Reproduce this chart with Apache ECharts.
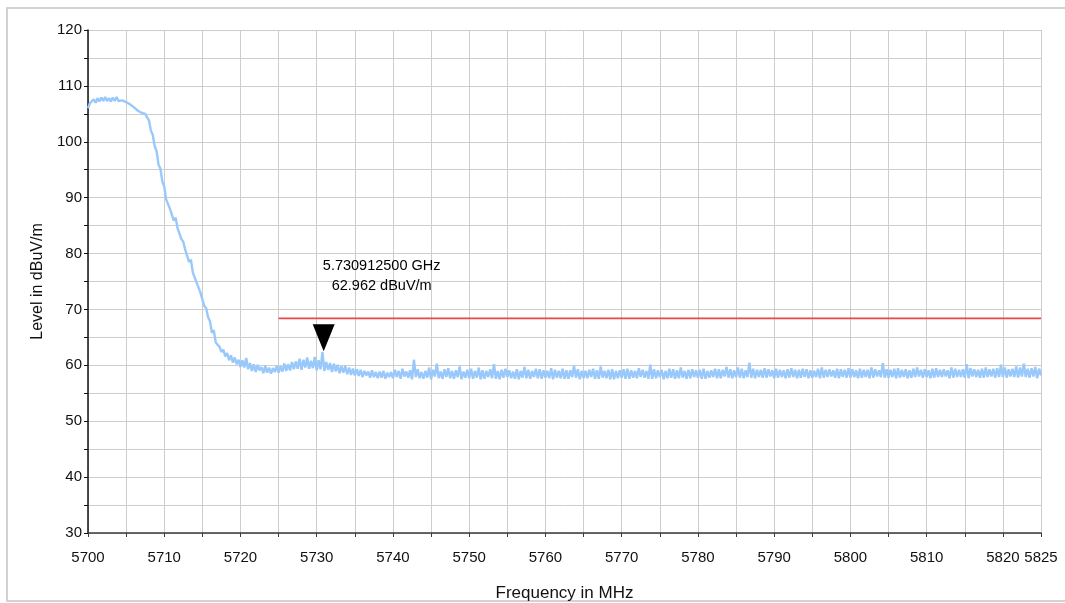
<!DOCTYPE html>
<html>
<head>
<meta charset="utf-8">
<script src="https://cdn.jsdelivr.net/npm/echarts@6/dist/echarts.min.js"></script>
<style>
  html, body { margin: 0; padding: 0; background: #fff; }
  #chart { width: 1065px; height: 603px; }
</style>
</head>
<body>
<div id="chart"></div>
<script>
// Sweep span of the receiver trace (MHz); samples are evenly spaced across it
const sweepStartMHz = 5700;
const sweepStopMHz = 5825;

// Measured level (dBuV/m), four samples per MHz, 5700 ... 5825 MHz
const levelTrace = [
  106.0, 106.9, 106.7, 107.6,  107.0, 107.8, 107.2, 107.9,  107.3, 108.0, 107.3, 107.8,
  107.2, 107.9, 107.3, 108.0,  107.3, 107.6, 107.4, 107.5,  107.1, 107.2, 106.7, 106.8,
  106.2, 106.3, 105.6, 105.8,  105.2, 105.5, 105.0, 105.2,  103.8, 102.0, 101.2, 99.2,
  98.3, 95.9, 95.2, 92.9,  92.0, 89.7, 89.6, 88.0,  87.8, 85.9, 86.4, 84.5,
  84.4, 82.6, 82.1, 80.7,  80.8, 78.5, 78.9, 76.6,  76.8, 74.8, 74.6, 73.0,
  72.7, 70.6, 70.2, 68.6,  67.9, 65.8, 66.3, 64.1,  63.9, 63.3, 62.4, 62.8,
  61.6, 62.2, 60.9, 61.8,  60.5, 61.4, 60.2, 61.0,  59.7, 60.9, 59.6, 61.3,
  59.3, 60.4, 59.0, 60.2,  58.8, 60.1, 59.1, 59.7,  58.6, 59.9, 58.7, 59.6,
  58.5, 59.5, 58.8, 59.9,  58.7, 59.8, 58.9, 60.3,  59.0, 60.2, 59.1, 60.6,
  59.3, 60.7, 59.4, 61.2,  59.2, 61.0, 59.6, 61.4,  59.4, 60.8, 59.5, 61.5,
  59.1, 60.9, 59.3, 62.4,  59.0, 60.6, 59.2, 60.4,  58.8, 60.3, 58.9, 60.1,
  58.6, 59.8, 58.7, 59.9,  58.4, 59.6, 58.3, 59.4,  58.2, 59.3, 58.1, 59.2,
  57.9, 59.0, 58.2, 58.9,  57.8, 59.1, 57.9, 58.8,  57.7, 58.9, 57.8, 59.0,
  57.6, 58.7, 57.9, 58.8,
  57.7, 59.2, 57.9, 59.0,  57.6, 59.4, 58.0, 58.9,  57.8, 59.1, 57.5, 61.0,
  57.9, 59.3, 57.7, 58.8,  57.6, 59.0, 57.8, 59.6,  57.5, 59.2, 58.0, 60.3,
  57.7, 58.9, 57.6, 59.3,  57.9, 59.5, 57.7, 59.0,  57.6, 59.1, 57.9, 59.8,
  57.5, 58.9, 57.8, 59.2,  57.7, 59.4, 57.6, 59.0,  57.8, 59.6, 57.5, 59.1,
  57.6, 59.0, 57.9, 59.3,  57.7, 60.2, 57.6, 59.0,  57.5, 59.2, 57.8, 59.4,
  57.9, 59.1, 57.7, 58.9,  57.6, 59.3, 57.5, 59.0,  57.8, 59.7, 57.7, 59.2,
  57.6, 59.0, 57.9, 59.4,  57.7, 59.3, 57.6, 59.1,  57.8, 59.0, 57.7, 59.5,
  57.5, 59.2, 57.8, 59.0,  57.7, 59.4, 57.6, 59.1,  57.6, 59.1, 57.9, 59.9,
  57.8, 59.3, 57.5, 59.0,  57.7, 59.0, 57.7, 59.2,  57.9, 59.4, 57.6, 59.1,
  57.6, 59.8, 57.8, 59.0,  57.7, 59.2, 57.5, 59.3,  57.5, 59.0, 57.7, 59.1,
  57.8, 59.3, 57.6, 59.4,  57.6, 59.1, 57.8, 59.0,  57.7, 59.5, 57.9, 59.2,
  57.8, 59.0, 57.6, 60.1,  57.6, 59.3, 57.7, 59.1,  57.9, 59.2, 57.5, 59.0,
  57.7, 59.4, 57.8, 59.3,  57.6, 59.1, 57.7, 59.6,  57.8, 59.0, 57.6, 59.2,
  57.7, 59.3, 57.9, 59.1,  57.8, 59.2, 57.6, 59.4,  57.6, 59.0, 57.8, 59.1,
  57.9, 59.4, 57.7, 59.3,  57.7, 59.2, 58.0, 59.7,  57.8, 59.3, 57.7, 59.1,
  57.9, 59.6, 57.8, 59.4,  57.7, 59.1, 57.9, 60.5,  57.8, 59.4, 57.7, 59.2,
  57.9, 59.2, 57.8, 59.5,  57.8, 59.3, 58.0, 59.1,  57.7, 59.4, 57.8, 59.2,
  57.9, 59.1, 57.7, 59.3,  57.8, 59.5, 57.9, 59.2,  57.7, 59.2, 57.8, 59.4,
  57.9, 59.3, 57.7, 59.1,  57.8, 59.0, 57.9, 59.4,  57.7, 59.6, 57.8, 59.2,
  57.9, 59.3, 58.0, 59.1,  57.8, 59.4, 57.7, 59.3,  57.9, 59.2, 57.8, 59.5,
  57.8, 59.3, 57.9, 59.1,  57.7, 59.4, 57.8, 59.2,  57.9, 59.2, 57.7, 59.6,
  57.8, 59.3, 58.0, 59.1,  57.9, 60.4, 57.8, 59.3,  57.8, 59.2, 57.9, 59.4,
  57.7, 59.5, 57.8, 59.2,  57.9, 59.3, 57.7, 59.1,  57.8, 59.4, 57.9, 59.6,
  58.0, 59.2, 57.8, 59.3,  57.9, 59.1, 57.7, 59.4,  57.8, 59.5, 57.9, 59.2,
  57.9, 59.3, 58.0, 59.1,  57.7, 59.6, 57.8, 59.4,  57.9, 59.2, 57.9, 59.3,
  57.8, 60.2, 57.7, 59.5,  58.0, 59.3, 57.9, 59.2,  57.8, 59.4, 57.8, 59.6,
  57.9, 59.3, 58.0, 59.4,  57.8, 59.5, 57.9, 60.1,  57.9, 59.6, 57.8, 59.3,
  58.0, 59.4, 57.9, 59.8,  57.8, 59.6, 58.0, 60.3,  57.9, 59.4, 57.8, 59.5,
  58.0, 59.7, 57.7, 59.4,
  58.2
];

// Limit line (MHz / dBuV/m)
const limitFreqMHz = [5725, 5825];
const limitLevel = [68.4, 68.4];

// Peak marker readout
const markerFreqGHz = 5.7309125;
const markerLevel = 62.962;

// Axis ranges
const freqRange = [5700, 5825];
const levelRange = [30, 120];

const fontFamily = '"Liberation Sans", Arial, sans-serif';

const step = (sweepStopMHz - sweepStartMHz) / (levelTrace.length - 1);
const tracePoints = levelTrace.map((v, i) => [sweepStartMHz + i * step, v]);
const limitPoints = limitFreqMHz.map((f, i) => [f, limitLevel[i]]);

const chart = echarts.init(document.getElementById('chart'), null, { renderer: 'canvas' });

chart.setOption({
  animation: false,
  backgroundColor: '#ffffff',
  textStyle: { fontFamily: fontFamily },
  graphic: [{
    type: 'rect',
    silent: true,
    shape: { x: 7, y: 8, width: 1072, height: 593 },
    style: { fill: 'none', stroke: '#d2d2d2', lineWidth: 2 }
  }],
  grid: { left: 88, right: 24, top: 30, bottom: 70, containLabel: false, outerBoundsMode: 'none' },
  xAxis: {
    type: 'value',
    min: freqRange[0],
    max: freqRange[1],
    interval: 5,
    name: 'Frequency in MHz',
    nameLocation: 'middle',
    nameGap: 52,
    nameTextStyle: { fontSize: 17, color: '#111', fontFamily: fontFamily },
    axisLine: { show: true, lineStyle: { color: '#3a3a3a', width: 1.5 } },
    axisTick: { show: true, inside: false, length: 4, lineStyle: { color: '#3a3a3a' } },
    axisLabel: {
      margin: 17,
      fontSize: 15,
      color: '#111',
      fontFamily: fontFamily,
      showMinLabel: true,
      showMaxLabel: true,
      formatter: v => (v % 10 === 0 || v === freqRange[1]) ? String(v) : ''
    },
    splitLine: { show: true, lineStyle: { color: '#cdcdcd', width: 1 } }
  },
  yAxis: {
    type: 'value',
    min: levelRange[0],
    max: levelRange[1],
    interval: 5,
    name: 'Level in dBuV/m',
    nameLocation: 'middle',
    nameGap: 41,
    nameTextStyle: { fontSize: 16, color: '#111', fontFamily: fontFamily },
    axisLine: { show: true, lineStyle: { color: '#111', width: 1.5 } },
    axisTick: { show: true, inside: false, length: 4, lineStyle: { color: '#111' } },
    axisLabel: {
      margin: 6,
      fontSize: 15,
      color: '#111',
      fontFamily: fontFamily,
      formatter: v => (v % 10 === 0) ? String(v) : ''
    },
    splitLine: { show: true, lineStyle: { color: '#cdcdcd', width: 1 } }
  },
  series: [
    {
      name: 'Level',
      type: 'line',
      data: tracePoints,
      showSymbol: false,
      silent: true,
      lineStyle: { color: '#99c9fb', width: 2.4 },
      z: 3
    },
    {
      name: 'Limit',
      type: 'line',
      data: limitPoints,
      showSymbol: false,
      silent: true,
      lineStyle: { color: '#ec4646', width: 1.6 },
      z: 4
    },
    {
      name: 'Marker',
      type: 'scatter',
      data: [[markerFreqGHz * 1000, markerLevel]],
      symbol: 'path://M0,0 L10,0 L5,12 Z',
      symbolSize: [22, 27],
      symbolOffset: [0, -11],
      itemStyle: { color: '#000', opacity: 1 },
      silent: true,
      z: 5,
      label: {
        show: true,
        position: 'inside',
        offset: [58, -62],
        align: 'center',
        verticalAlign: 'middle',
        fontSize: 14.5,
        lineHeight: 20,
        color: '#000',
        fontFamily: fontFamily,
        formatter: () => markerFreqGHz.toFixed(9) + ' GHz\n' + markerLevel.toFixed(3) + ' dBuV/m'
      }
    }
  ]
});
</script>
</body>
</html>
